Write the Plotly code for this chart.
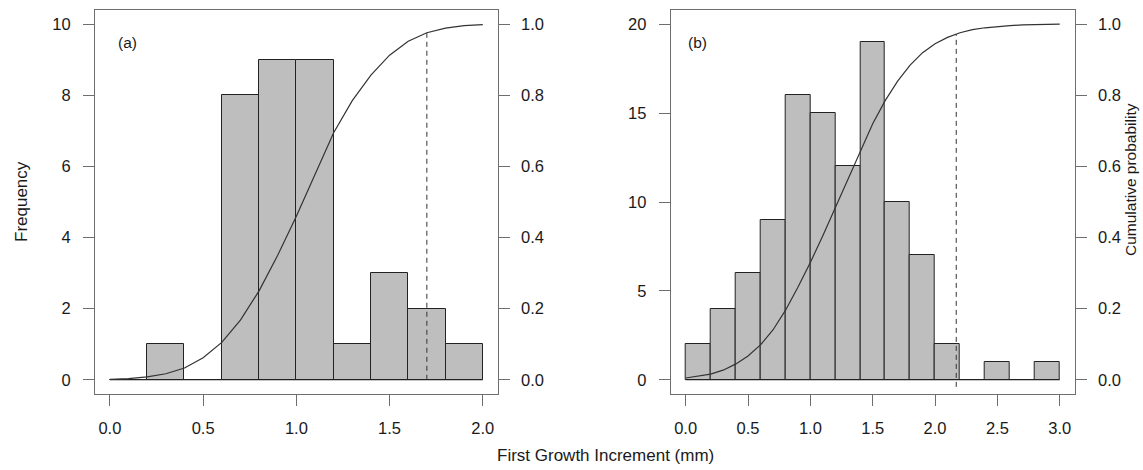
import plotly.graph_objects as go

# Histogram bins (mm) and counts for the two samples
bin_width = 0.2
edges_a = [0.0, 0.2, 0.4, 0.6, 0.8, 1.0, 1.2, 1.4, 1.6, 1.8, 2.0]
counts_a = [0, 1, 0, 8, 9, 9, 1, 3, 2, 1]

edges_b = [0.0, 0.2, 0.4, 0.6, 0.8, 1.0, 1.2, 1.4, 1.6, 1.8, 2.0,
           2.2, 2.4, 2.6, 2.8, 3.0]
counts_b = [2, 4, 6, 9, 16, 15, 12, 19, 10, 7, 2, 0, 1, 0, 1]

# Fitted cumulative probability curves
cdf_x_a = [0.0, 0.1, 0.2, 0.3, 0.4, 0.5, 0.6, 0.7, 0.8, 0.9, 1.0,
           1.1, 1.2, 1.3, 1.4, 1.5, 1.6, 1.7, 1.8, 1.9, 2.0]
cdf_p_a = [0.001, 0.003, 0.008, 0.017, 0.033, 0.062, 0.105, 0.168, 0.25,
           0.35, 0.46, 0.578, 0.695, 0.785, 0.857, 0.913, 0.952, 0.976,
           0.989, 0.996, 0.999]

cdf_x_b = [0.0, 0.1, 0.2, 0.3, 0.4, 0.5, 0.6, 0.7, 0.8, 0.9, 1.0,
           1.1, 1.2, 1.3, 1.4, 1.5, 1.6, 1.7, 1.8, 1.9, 2.0,
           2.1, 2.2, 2.3, 2.4, 2.5, 2.6, 2.7, 2.8, 2.9, 3.0]
cdf_p_b = [0.005, 0.01, 0.016, 0.027, 0.044, 0.067, 0.098, 0.14, 0.195,
           0.26, 0.33, 0.405, 0.485, 0.565, 0.645, 0.72, 0.785, 0.84,
           0.885, 0.92, 0.945, 0.963, 0.976, 0.985, 0.99, 0.994, 0.996,
           0.998, 0.999, 0.9995, 1.0]

# Upper 97.5% cut-off marked with a dashed line
cut_a = 1.7
cut_a_p = [0.0, 0.975]
cut_b = 2.17
cut_b_p = [-0.02, 0.972]

xticks_a = [0.0, 0.5, 1.0, 1.5, 2.0]
xticks_b = [0.0, 0.5, 1.0, 1.5, 2.0, 2.5, 3.0]
yticks_a = [0, 2, 4, 6, 8, 10]
yticks_b = [0, 5, 10, 15, 20]
pticks = [0.0, 0.2, 0.4, 0.6, 0.8, 1.0]

W, H = 1143, 470
FONT = "Liberation Sans, Arial, sans-serif"
TXT = "#1a1a1a"
BAR = "#bebebe"
EDGE = "#222222"
BOX = "#6e6e6e"


def px_x(p):
    return p / W


def px_y(p):
    return 1 - p / H


dom_y = [px_y(394), px_y(10)]
dom_xa = [px_x(95), px_x(497.7)]
dom_xb = [px_x(670.7), px_x(1074.7)]

fig = go.Figure()


def add_panel(edges, counts, cx, cp, cut, cut_p, xa, ya, yp):
    centers = [(edges[i] + edges[i + 1]) / 2 for i in range(len(counts))]
    fig.add_trace(go.Bar(
        x=centers, y=counts, width=bin_width, xaxis=xa, yaxis=ya,
        marker=dict(color=BAR, line=dict(color=EDGE, width=1)),
        showlegend=False, hoverinfo="x+y"))
    # baseline under empty bins
    fig.add_trace(go.Scatter(
        x=[edges[0], edges[-1]], y=[0, 0], mode="lines", xaxis=xa, yaxis=ya,
        line=dict(color=EDGE, width=1), showlegend=False, hoverinfo="skip"))
    fig.add_trace(go.Scatter(
        x=cx, y=cp, mode="lines", xaxis=xa, yaxis=yp,
        line=dict(color="#333333", width=1.2), showlegend=False))
    fig.add_trace(go.Scatter(
        x=[cut, cut], y=cut_p, mode="lines", xaxis=xa, yaxis=yp,
        line=dict(color="#333333", width=1, dash="5px,4px"),
        showlegend=False, hoverinfo="skip"))


add_panel(edges_a, counts_a, cdf_x_a, cdf_p_a, cut_a, cut_a_p, "x", "y", "y2")
add_panel(edges_b, counts_b, cdf_x_b, cdf_p_b, cut_b, cut_b_p, "x2", "y3", "y4")

tickfont = dict(family=FONT, size=16.5, color=TXT)
common = dict(showgrid=False, zeroline=False, showline=True, linecolor=BOX,
              linewidth=1, ticks="outside", ticklen=11, tickcolor=BOX,
              tickwidth=1, tickfont=tickfont, fixedrange=True)

fig.update_layout(
    width=W, height=H, autosize=False,
    margin=dict(l=0, r=0, t=0, b=0),
    paper_bgcolor="white", plot_bgcolor="white",
    bargap=0,
    xaxis=dict(domain=dom_xa, range=[-0.08, 2.08], anchor="y",
               tickvals=xticks_a, ticktext=[f"{v:.1f}" for v in xticks_a],
               mirror=True, ticklabelstandoff=8, **common),
    yaxis=dict(domain=dom_y, range=[-0.4, 10.4], anchor="x",
               tickvals=yticks_a, mirror=True, ticklabelstandoff=9, **common),
    yaxis2=dict(overlaying="y", side="right", range=[-0.04, 1.04], anchor="x",
                tickvals=pticks, ticktext=[f"{v:.1f}" for v in pticks],
                ticklabelstandoff=8, **common),
    xaxis2=dict(domain=dom_xb, range=[-0.12, 3.12], anchor="y3",
                tickvals=xticks_b, ticktext=[f"{v:.1f}" for v in xticks_b],
                mirror=True, ticklabelstandoff=8, **common),
    yaxis3=dict(domain=dom_y, range=[-0.8, 20.8], anchor="x2",
                tickvals=yticks_b, mirror=True, ticklabelstandoff=9, **common),
    yaxis4=dict(overlaying="y3", side="right", range=[-0.04, 1.04],
                anchor="x2", tickvals=pticks,
                ticktext=[f"{v:.1f}" for v in pticks],
                ticklabelstandoff=8, **common),
)

title_font = dict(family=FONT, size=17, color=TXT)
side_font = dict(family=FONT, size=15.5, color=TXT)
fig.add_annotation(text="Frequency", x=px_x(21), y=px_y(202), xref="paper",
                   yref="paper", textangle=-90, showarrow=False,
                   font=title_font, xanchor="center", yanchor="middle")
fig.add_annotation(text="Cumulative probability", x=px_x(1130), y=px_y(180),
                   xref="paper", yref="paper", textangle=-90, showarrow=False,
                   font=side_font, xanchor="center", yanchor="middle")
fig.add_annotation(text="First Growth Increment (mm)", x=px_x(605),
                   y=px_y(455), xref="paper", yref="paper", showarrow=False,
                   font=title_font, xanchor="center", yanchor="middle")
fig.add_annotation(text="(a)", x=px_x(116), y=px_y(42), xref="paper",
                   yref="paper", showarrow=False, font=side_font,
                   xanchor="left", yanchor="middle")
fig.add_annotation(text="(b)", x=px_x(686), y=px_y(42), xref="paper",
                   yref="paper", showarrow=False, font=side_font,
                   xanchor="left", yanchor="middle")

fig.write_html("out.html")
